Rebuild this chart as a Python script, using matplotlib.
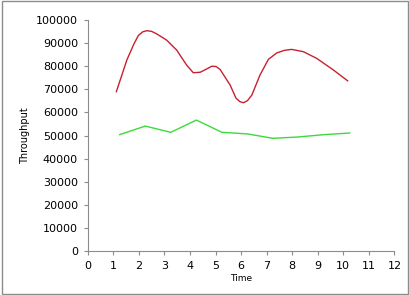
import matplotlib
matplotlib.use("Agg")
import matplotlib.pyplot as plt
from matplotlib.patches import Rectangle

# Red series
temps_vermell = [1.12, 1.53, 1.80, 1.98, 2.15, 2.31, 2.50, 2.70, 3.09, 3.48, 3.87, 4.13, 4.40,
                 4.65, 4.85, 5.02, 5.18, 5.57, 5.80, 5.95, 6.09, 6.25, 6.42, 6.74, 7.07, 7.40,
                 7.70, 7.98, 8.44, 8.96, 9.61, 10.17]
valors_vermell = [69000, 82700, 89500, 93300, 94900, 95400, 95100, 94000, 91300, 87000, 80500,
                  77200, 77400, 78800, 80000, 79900, 78600, 71900, 66200, 64700, 64200, 65100,
                  67500, 76200, 83000, 85800, 86900, 87300, 86300, 83400, 78400, 73700]

# Green series
temps_verd = [1.25, 2.25, 3.25, 4.25, 5.25, 6.25, 7.25, 8.25, 9.25, 10.25]
valors_verd = [50400, 54100, 51400, 56700, 51400, 50700, 48800, 49400, 50400, 51100]

x_ticks = list(range(0, 13))
y_ticks = list(range(0, 100001, 10000))

fig = plt.figure(figsize=(4.1, 2.95), dpi=100)
ax = fig.add_axes([0.214, 0.149, 0.748, 0.783])

ax.plot(temps_vermell, valors_vermell, color="#C8202E", lw=1.0)
ax.plot(temps_verd, valors_verd, color="#3ADB3A", lw=1.0)

ax.set_xlim(0, 12)
ax.set_ylim(0, 100000)
ax.set_xticks(x_ticks)
ax.set_yticks(y_ticks)
ax.tick_params(labelsize=8, length=3, width=0.8, color="#8c8c8c", pad=4)

for s in ["top", "right"]:
    ax.spines[s].set_visible(False)
for s in ["left", "bottom"]:
    ax.spines[s].set_color("#8c8c8c")
    ax.spines[s].set_linewidth(0.8)

ax.set_xlabel("Time", fontsize=6.5, labelpad=2)
ax.set_ylabel("Throughput", fontsize=7, labelpad=4)

# chart border
fig.patches.append(Rectangle((0.004, 0.005), 0.99, 0.99, transform=fig.transFigure,
                             fill=False, edgecolor="#8c8c8c", lw=1))

fig.savefig("out.png", dpi=100)
